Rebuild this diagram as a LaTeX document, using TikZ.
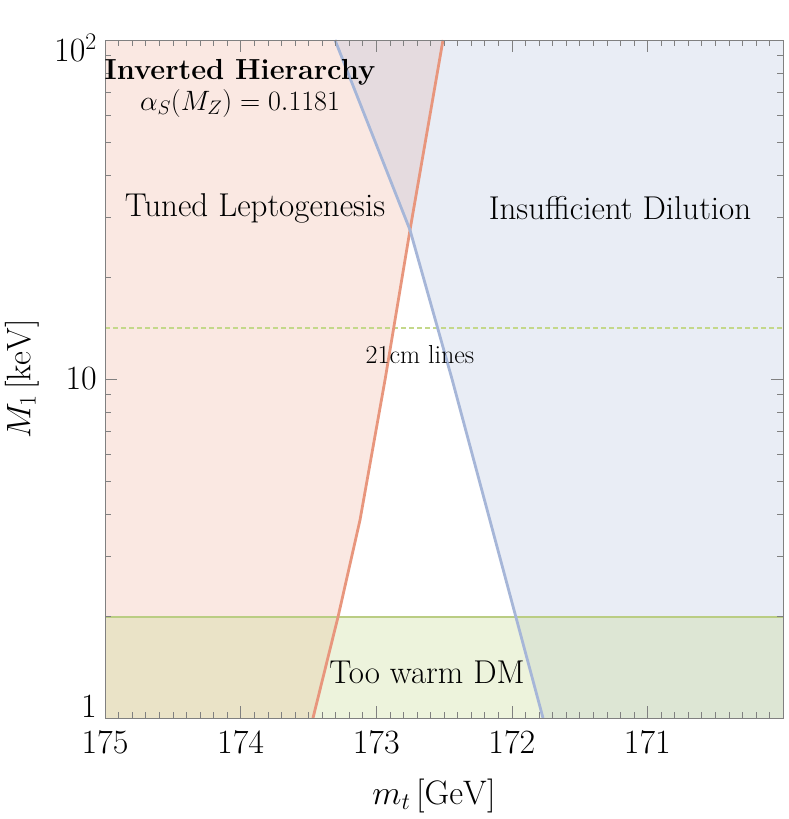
\documentclass[tikz,border=0pt]{standalone}
\usepackage{fix-cm}
\begin{document}
\begin{tikzpicture}[x=1pt,y=-1pt,
  lab/.style={font=\fontsize{33}{38}\selectfont},
  tick/.style={font=\fontsize{34}{40}\selectfont}]
\definecolor{orf}{HTML}{E8967D}\definecolor{blf}{HTML}{A6B6D8}\definecolor{grf}{HTML}{C4D88A}
\useasboundingbox (0,0) rectangle (789,819);
\fill[orf,opacity=0.22] (105,40)--(443,40)--(410,230)--(385,380)--(360,520)--(338,617)--(313,718)--(105,718)--cycle;
\fill[blf,opacity=0.25] (335,40)--(783,40)--(783,718)--(543,718)--(452,379)--(410,230)--cycle;
\fill[grf,opacity=0.3] (105,617) rectangle (783,718);
\draw[grf!95!black,line width=2.5pt] (105,617)--(783,617);
\draw[grf,line width=1.6pt,dashed,dash pattern=on 5pt off 3pt] (105,328)--(783,328);
\draw[orf,line width=2.8pt] (443,40)--(410,230)--(385,380)--(360,520)--(338,617)--(313,718);
\draw[blf,line width=2.8pt] (335,40)--(410,230)--(452,379)--(543,718);
\draw[gray,line width=0.8pt] (105,40) rectangle (783,718);
% x ticks
\foreach \i in {0,...,50}{\pgfmathsetmacro\xx{105+\i*13.56}
  \draw[gray] (\xx,718)--(\xx,712); \draw[gray] (\xx,40)--(\xx,46);}
\foreach \i/\t in {0/175,1/174,2/173,3/172,4/171}{\pgfmathsetmacro\xx{105+\i*135.6}
  \draw[gray] (\xx,718)--(\xx,706); \draw[gray] (\xx,40)--(\xx,52);
  \node[tick,anchor=north,inner sep=0pt] (xt\i) at (\xx,730) {\t};}
% y ticks
\foreach \d in {0,1}{\foreach \k in {2,...,9}{\pgfmathsetmacro\yy{718-339*(\d+log10(\k))}
  \draw[gray] (105,\yy)--(111,\yy); \draw[gray] (783,\yy)--(777,\yy);}}
\foreach \d in {0,1,2}{\pgfmathsetmacro\yy{718-339*\d}
  \draw[gray] (105,\yy)--(117,\yy); \draw[gray] (783,\yy)--(771,\yy);}
\node[tick,anchor=east,inner sep=0pt] (y1) at (97,706) {1};
\node[tick,anchor=east,inner sep=0pt] (y10) at (97,379) {10};
\node[tick,anchor=east,inner sep=0pt] (y100) at (97,48) {$10^2$};
\node[tick] (xl) at (434,796) {$m_t\,[\mathrm{GeV}]$};
\node[tick,rotate=90] (yl) at (22,379) {$M_1\,[\mathrm{keV}]$};
\node[font=\fontsize{29}{34}\selectfont\bfseries] (ih) at (240,72) {Inverted Hierarchy};
\node[font=\fontsize{28}{34}\selectfont] (as) at (240,103) {$\alpha_S(M_Z)=0.1181$};
\node[lab] (tl) at (255,208) {Tuned Leptogenesis};
\node[lab] (id) at (620,208) {Insufficient Dilution};
\node[font=\fontsize{26}{30}\selectfont] (cm) at (420,355) {21cm lines};
\node[lab] (tw) at (427,672) {Too warm DM};
\end{tikzpicture}
\end{document}
